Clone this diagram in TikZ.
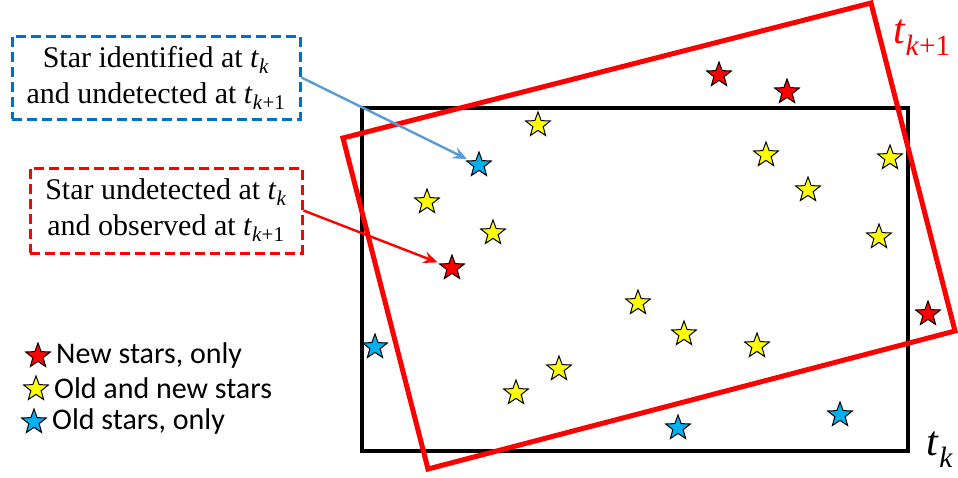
\documentclass[tikz,border=0pt]{standalone}
\usepackage{fontspec}
\setmainfont{Liberation Serif}
\newfontfamily\legendfont{Carlito}
\usetikzlibrary{arrows.meta, shapes.geometric}
\definecolor{cred}{HTML}{FF0000}
\definecolor{cyellow}{HTML}{FFFF00}
\definecolor{cblue}{HTML}{00B0F0}
\definecolor{cdash}{HTML}{0070C0}
\definecolor{carrow}{HTML}{5B9BD5}
\newcommand{\tsub}[1]{\textit{t}\textsubscript{#1}}
\tikzset{
  every picture/.style={x=1pt, y=-1pt},
  sky/.style={star, star points=5, star point ratio=2.4, minimum size=26pt, inner sep=0pt, draw=black, line width=1pt, fill=#1},
  note/.style={draw=#1, dashed, dash pattern=on 10pt off 5pt, line width=3pt, align=center, inner sep=0pt, font=\fontsize{30}{36}\selectfont},
  arrow/.style={-{Stealth[length=14pt, width=12pt, inset=5pt]}, draw=#1, line width=2.4pt, shorten >=3pt},
  legend/.style={anchor=west, inner sep=0pt, font=\legendfont\fontsize{30}{30}\selectfont},
}

\begin{document}
\begin{tikzpicture}
  \useasboundingbox (0,0) rectangle (958,477);
  % ---------- frames
  \draw[line width=4pt] (362,108) rectangle (908,451);
  \draw[cred, line width=5pt] (343,138) -- (871,3) -- (955,331) -- (428,469) -- cycle;
  \node[text=cred, font=\fontsize{42}{42}\selectfont] (tk1) at (922,38) {\tsub{\textit{k}+1}};
  \node[font=\fontsize{42}{42}\selectfont] (tk) at (940,450) {\tsub{\textit{k}}};
  % ---------- stars
  \foreach \x/\y [count=\i] in {719/75, 787/92, 928/314}
    \node[sky=cred] (r\i) at (\x,\y) {};
  \node[sky=cred] (rnew) at (452,268) {};
  \foreach \x/\y [count=\i] in {538/125, 766/155, 890/158, 808/190, 427/202, 493/233, 879/237, 638/303, 684/334, 757/346, 559/369, 516/393}
    \node[sky=cyellow] (y\i) at (\x,\y) {};
  \foreach \x/\y [count=\i] in {375/347, 678/428, 840/415}
    \node[sky=cblue] (b\i) at (\x,\y) {};
  \node[sky=cblue] (bold) at (479,165) {};
  % ---------- notes
  \node[note=cdash, minimum width=288pt, minimum height=83pt] (lost) at (156,77.5)
    {Star identified at \tsub{\textit{k}}\\and undetected at \tsub{\textit{k}+1}};
  \node[note=cred, minimum width=272pt, minimum height=85pt] (found) at (166,210.5)
    {Star undetected at \tsub{\textit{k}}\\and observed at \tsub{\textit{k}+1}};
  \draw[arrow=carrow] (lost.east) -- (bold);
  \draw[arrow=cred] (found.east) -- (rnew);
  % ---------- legend
  \node[sky=cred] (kr) at (38,356) {};
  \node[sky=cyellow] (ky) at (36,389) {};
  \node[sky=cblue] (kb) at (34,422) {};
  \node[legend] (lr) at (56,355) {New stars, only};
  \node[legend] (ly) at (54,388) {Old and new stars};
  \node[legend] (lb) at (52,421) {Old stars, only};
\end{tikzpicture}
\end{document}
